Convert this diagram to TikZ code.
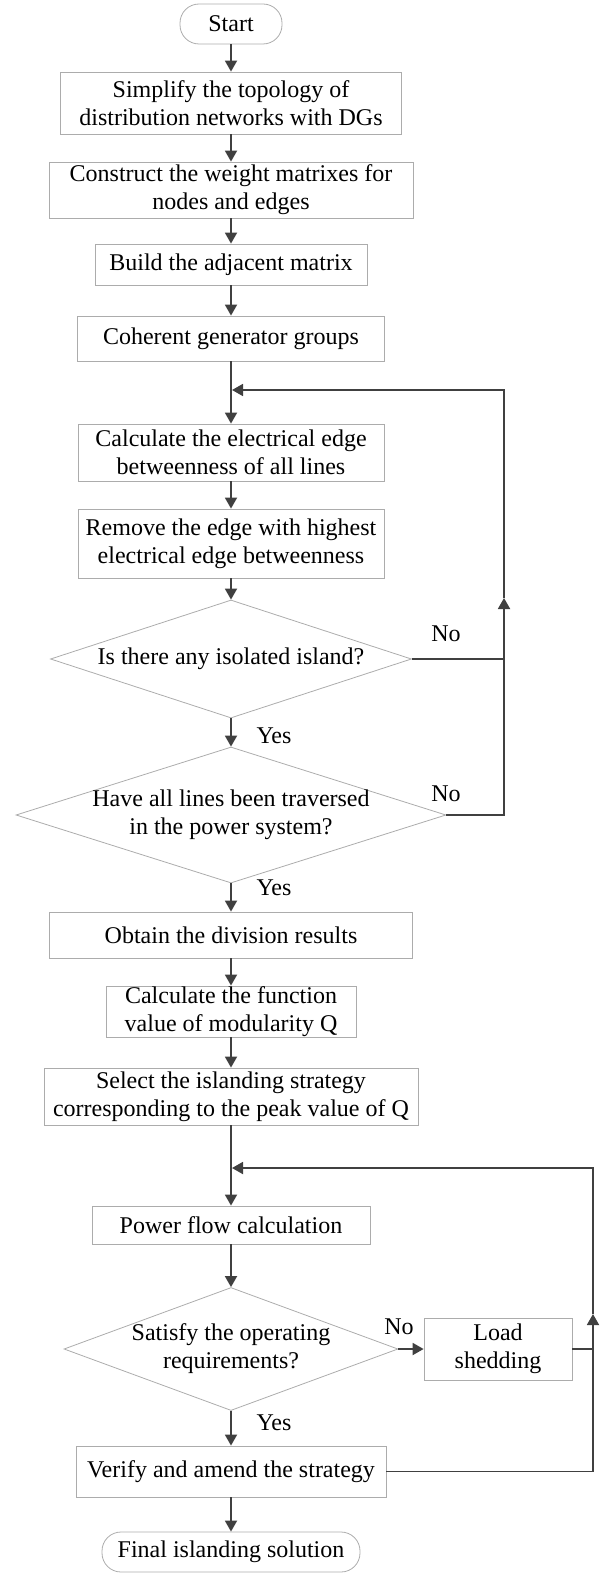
\documentclass[tikz,border=0pt]{standalone}
\usepackage{fontspec}
\setmainfont{Liberation Serif}
\usetikzlibrary{arrows.meta,shapes.geometric}

\begin{document}
\begin{tikzpicture}[x=1pt,y=-1pt,
  every node/.style={font=\fontsize{24}{28}\selectfont,align=center,inner sep=0pt},
  proc/.style={draw=gray!65,line width=0.8pt,rectangle},
  term/.style={draw=gray!65,line width=0.8pt,rectangle,rounded corners=19pt},
  decision/.style={draw=gray!65,line width=0.8pt,diamond},
  arr/.style={draw=black!75,line width=1.8pt,-{Triangle[length=11pt,width=12pt]}},
  ln/.style={draw=black!75,line width=1.8pt}]
\useasboundingbox (0,0) rectangle (601,1573);
\node[term,minimum width=102,minimum height=40] (start) at (231,24) {Start};
\node[proc,minimum width=341,minimum height=62] (b1) at (231,103) {Simplify the topology of\\distribution networks with DGs};
\node[proc,minimum width=364,minimum height=56] (b2) at (231,190) {Construct the weight matrixes for\\nodes and edges};
\node[proc,minimum width=272,minimum height=41] (b3) at (231,264.5) {Build the adjacent matrix};
\node[proc,minimum width=307,minimum height=45] (b4) at (231,338.5) {Coherent generator groups};
\node[proc,minimum width=306,minimum height=57] (b5) at (231,452.5) {Calculate the electrical edge\\betweenness of all lines};
\node[proc,minimum width=306,minimum height=69] (b6) at (231,543.5) {Remove the edge with highest\\electrical edge betweenness};
\node[decision,minimum width=361,minimum height=118,label={center:Is there any isolated island?}] (d1) at (231,659) {};
\node[decision,minimum width=430,minimum height=136,label={center:{Have all lines been traversed\\in the power system?}}] (d2) at (231,815) {};
\node[proc,minimum width=363,minimum height=46] (b7) at (231,935) {Obtain the division results};
\node[proc,minimum width=250,minimum height=51] (b8) at (231,1011.5) {Calculate the function\\value of modularity Q};
\node[proc,minimum width=374,minimum height=57] (b9) at (231,1096.5) {Select the islanding strategy\\corresponding to the peak value of Q};
\node[proc,minimum width=278,minimum height=38] (b10) at (231,1225) {Power flow calculation};
\node[decision,minimum width=334,minimum height=123,label={center:{Satisfy the operating\\requirements?}}] (d3) at (231,1349) {};
\node[proc,minimum width=148,minimum height=62] (load) at (498,1349) {Load\\shedding};
\node[proc,minimum width=310,minimum height=51] (b11) at (231,1471.5) {Verify and amend the strategy};
\node[term,minimum width=258,minimum height=40] (final) at (231,1552) {Final islanding solution};

\coordinate (c1) at (504,815);
\coordinate (c2) at (504,390);
\coordinate (c3) at (504,659);
\coordinate (u1) at (504,598);
\coordinate (m1) at (232,390);
\coordinate (c4) at (593,1471.5);
\coordinate (c5) at (593,1168);
\coordinate (c6) at (593,1349);
\coordinate (u2) at (593,1314);
\coordinate (m2) at (232,1168);

\draw[arr] (start) -- (b1);
\draw[arr] (b1) -- (b2);
\draw[arr] (b2) -- (b3);
\draw[arr] (b3) -- (b4);
\draw[arr] (b4) -- (b5);
\draw[arr] (b5) -- (b6);
\draw[arr] (b6) -- (d1);
\draw[arr] (d1) -- (d2);
\draw[arr] (d2) -- (b7);
\draw[arr] (b7) -- (b8);
\draw[arr] (b8) -- (b9);
\draw[arr] (b9) -- (b10);
\draw[arr] (b10) -- (d3);
\draw[arr] (d3) -- (b11);
\draw[arr] (b11) -- (final);
\draw[arr] (d3) -- (load);

\draw[ln] (d1.east) -- (c3);
\draw[arr] (d2.east) -- (c1) -- (u1);
\draw[arr] (u1) -- (c2) -- (m1);
\draw[ln] (load.east) -- (c6);
\draw[arr] (b11.east) -- (c4) -- (u2);
\draw[arr] (u2) -- (c5) -- (m2);

\node (no1) at (446,634) {No};
\node (no2) at (446,794) {No};
\node (no3) at (399,1327) {No};
\node (yes1) at (274,736) {Yes};
\node (yes2) at (274,888) {Yes};
\node (yes3) at (274,1423) {Yes};
\end{tikzpicture}
\end{document}
